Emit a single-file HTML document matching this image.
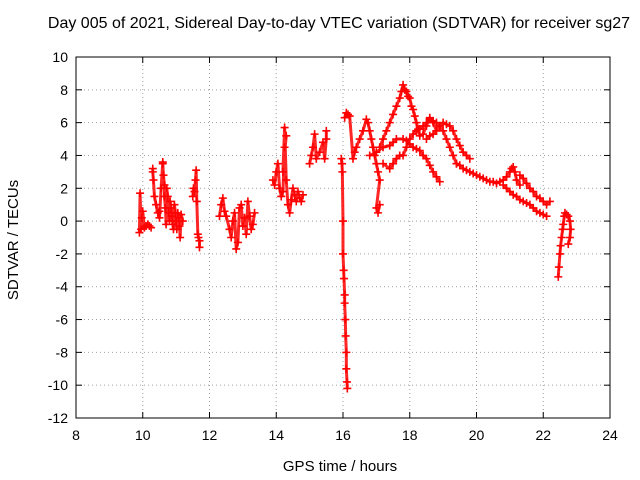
<!DOCTYPE html>
<html><head><meta charset="utf-8"><style>
html,body{margin:0;padding:0;background:#fff;}
svg{display:block;font-family:"Liberation Sans",sans-serif;}
</style></head><body>
<svg id="chart" width="640" height="480" viewBox="0 0 640 480">
<rect x="0" y="0" width="640" height="480" fill="#fff"/>
<text x="339" y="28" font-size="16" text-anchor="middle">Day 005 of 2021, Sidereal Day-to-day VTEC variation (SDTVAR) for receiver sg27</text>
<g id="grid"></g><g id="axes"></g><g id="marks"></g>
<text x="340" y="471" font-size="15" text-anchor="middle">GPS time / hours</text>
<text transform="translate(18,240) rotate(-90)" font-size="15" text-anchor="middle">SDTVAR / TECUs</text>
</svg>
<script>
const xTicks=[8,10,12,14,16,18,20,22,24];
const yTicks=[10,8,6,4,2,0,-2,-4,-6,-8,-10,-12];
const trackA_t=[9.9,9.92,9.95,9.97,10.0,10.05,10.1,10.15,10.2,10.25];
const trackA_v=[-0.7,1.7,-0.5,0.2,0.6,-0.4,-0.3,-0.2,-0.3,-0.4];
const trackB_t=[10.3,10.3,10.32,10.35,10.4,10.45,10.5,10.5,10.55,10.6,10.6,10.62,10.65,10.65,10.68,10.7,10.72,10.75,10.78,10.8,10.82,10.85,10.88,10.9,10.92,10.95,10.98,11.0,11.02,11.05,11.08,11.1,11.12,11.15,11.2];
const trackB_v=[3.2,3.0,2.5,1.5,1.0,0.5,0.6,0.2,2.0,3.6,3.5,2.8,2.2,1.5,0.8,-0.2,2.0,1.5,0.5,0.0,1.2,0.8,0.3,-0.2,-0.5,1.0,0.5,0.0,-0.5,0.5,0.2,-0.3,-1.0,0.4,0.0];
const trackC_t=[11.5,11.52,11.55,11.58,11.6,11.62,11.65,11.67,11.7,11.7];
const trackC_v=[1.5,2.0,1.8,2.5,3.1,1.2,-0.8,-1.0,-1.2,-1.6];
const trackD_t=[12.3,12.35,12.4,12.45,12.5,12.6,12.65,12.7,12.75,12.8,12.85,12.9,12.95,13.0,13.05,13.1,13.15,13.2,13.25,13.3,13.35];
const trackD_v=[0.3,1.0,1.4,0.6,0.3,-0.5,-1.0,0.0,0.5,-1.7,-1.3,0.8,1.0,-0.3,0.2,-0.8,1.2,0.3,-0.5,-0.2,0.5];
const trackE_t=[13.9,13.95,14.0,14.05,14.1,14.15,14.2,14.25,14.3,14.2,14.25,14.3,14.35,14.4,14.45,14.5,14.55,14.6,14.65,14.7,14.75,14.8];
const trackE_v=[2.5,2.2,3.0,3.5,2.0,1.5,1.8,4.5,5.2,3.0,5.7,2.5,1.0,0.5,1.3,2.0,1.6,1.2,1.8,1.4,1.2,1.6];
const trackF_t=[15.0,15.05,15.1,15.15,15.2,15.3,15.4,15.45,15.5,15.5];
const trackF_v=[3.5,4.0,4.5,5.3,3.8,4.2,4.8,3.8,5.0,5.5];
const trackG_t=[15.95,15.97,15.98,16.0,16.0,16.02,16.03,16.05,16.05,16.07,16.08,16.1,16.1,16.12,16.13];
const trackG_v=[3.8,3.5,3.0,0.0,-2.0,-3.0,-3.5,-4.5,-5.0,-6.0,-7.0,-8.0,-9.0,-9.8,-10.2];
const trackH_t=[16.05,16.1,16.15,16.2,16.3,16.35,16.4,16.5,16.6,16.7,16.75,16.8,16.85,16.9,16.95,17.0,17.05,17.1,17.0,17.05,17.1];
const trackH_v=[6.3,6.6,6.5,6.4,3.8,4.2,4.5,5.0,5.5,6.2,6.0,5.5,5.0,4.5,4.0,3.5,3.0,2.5,0.8,0.5,1.0];
const trackI_t=[17.1,17.2,17.3,17.4,17.5,17.6,17.7,17.75,17.8,17.85,17.9,17.95,18.0,18.05,18.1,18.15,18.2,18.25,18.3,18.4,18.5,18.6,18.7,18.8];
const trackI_v=[4.5,5.0,5.5,6.0,6.5,7.0,7.5,7.9,8.3,8.0,7.9,7.6,7.5,7.0,6.8,6.4,6.0,5.6,5.2,5.3,5.8,6.3,6.0,5.5];
const trackJ_t=[16.8,17.0,17.2,17.4,17.5,17.6,17.8,17.9,18.0,18.1,18.2,18.3,18.4,18.5,18.6,18.7,18.8,18.9];
const trackJ_v=[4.0,4.2,4.5,4.6,4.8,5.0,5.0,4.9,4.7,4.5,4.4,4.3,4.0,3.8,3.4,3.0,2.7,2.4];
const trackK_t=[17.2,17.4,17.5,17.6,17.7,17.8,17.9,18.0,18.1,18.2,18.3,18.4,18.5,18.6,18.7,18.8,18.9,19.0,19.1,19.2,19.3,19.4];
const trackK_v=[3.5,3.2,3.5,3.8,4.0,4.0,4.5,5.0,5.3,5.5,5.6,5.8,6.0,6.2,6.1,6.0,5.8,5.5,5.0,4.5,4.0,3.5];
const trackL_t=[18.5,18.6,18.7,18.8,18.9,19.0,19.1,19.2,19.3,19.4,19.5,19.6,19.7,19.8];
const trackL_v=[5.0,5.2,5.3,5.5,5.8,6.0,5.9,5.8,5.5,5.0,4.6,4.2,4.0,3.8];
const trackM_t=[19.4,19.5,19.6,19.7,19.8,19.9,20.0,20.1,20.2,20.3,20.4,20.5,20.6,20.7,20.8,20.9,21.0,21.05,21.1,21.15,21.2,21.3];
const trackM_v=[3.5,3.4,3.2,3.1,3.0,2.9,2.8,2.7,2.6,2.5,2.4,2.4,2.3,2.4,2.5,2.7,3.0,3.2,3.3,3.0,2.5,2.2];
const trackN_t=[20.8,20.9,21.0,21.1,21.2,21.3,21.4,21.5,21.6,21.7,21.8,21.9,22.0,22.1];
const trackN_v=[2.2,2.0,1.8,1.6,1.5,1.3,1.2,1.1,1.0,0.8,0.6,0.5,0.4,0.3];
const trackO_t=[21.3,21.4,21.5,21.6,21.7,21.8,21.9,22.0,22.1,22.2];
const trackO_v=[2.8,2.6,2.3,2.0,1.8,1.5,1.4,1.2,1.0,1.2];
const trackP_t=[22.45,22.47,22.5,22.52,22.55,22.58,22.6,22.63,22.65,22.7,22.75,22.8,22.82,22.8,22.75];
const trackP_v=[-3.4,-2.8,-2.0,-1.5,-1.0,-0.5,-0.2,0.3,0.5,0.4,0.3,0.0,-0.5,-1.0,-1.4];
const tracks=[[trackA_t,trackA_v],[trackB_t,trackB_v],[trackC_t,trackC_v],[trackD_t,trackD_v],[trackE_t,trackE_v],[trackF_t,trackF_v],[trackG_t,trackG_v],[trackH_t,trackH_v],[trackI_t,trackI_v],[trackJ_t,trackJ_v],[trackK_t,trackK_v],[trackL_t,trackL_v],[trackM_t,trackM_v],[trackN_t,trackN_v],[trackO_t,trackO_v],[trackP_t,trackP_v]];

const L=76,R=610,T=57,B=418;
const xs=t=>L+(t-8)/16*(R-L);
const ys=v=>T+(10-v)/22*(B-T);
const NS="http://www.w3.org/2000/svg";
function mk(tag,parent,attrs){const e=document.createElementNS(NS,tag);for(const k in attrs)e.setAttribute(k,attrs[k]);parent.appendChild(e);return e;}
const grid=document.getElementById('grid'),axes=document.getElementById('axes'),marks=document.getElementById('marks');
xTicks.forEach(t=>{
  const x=xs(t);
  if(t>8&&t<24){const g=mk('line',grid,{x1:x,y1:T,x2:x,y2:B,stroke:'#a0a0a0','stroke-dasharray':'1,3'});
  
  }
  mk('line',axes,{x1:x,y1:B,x2:x,y2:B-6,stroke:'#000'});
  mk('line',axes,{x1:x,y1:T,x2:x,y2:T+6,stroke:'#000'});
  const tx=mk('text',axes,{x:x,y:B+22,'font-size':14,'text-anchor':'middle'});
  tx.textContent=t;
  
  
});
yTicks.forEach(v=>{
  const y=ys(v);
  if(v>-12&&v<10){const g=mk('line',grid,{x1:L,y1:y,x2:R,y2:y,stroke:'#a0a0a0','stroke-dasharray':'1,3'});
  
  }
  mk('line',axes,{x1:L,y1:y,x2:L+6,y2:y,stroke:'#000'});
  mk('line',axes,{x1:R,y1:y,x2:R-6,y2:y,stroke:'#000'});
  const tx=mk('text',axes,{x:L-8,y:y+5,'font-size':14,'text-anchor':'end'});
  tx.textContent=v;
  
  
});
const fr=mk('rect',axes,{x:L,y:T,width:R-L,height:B-T,fill:'none',stroke:'#000'});


tracks.forEach(([tt,vv])=>{
  const pl=mk('polyline',marks,{points:tt.map((t,i)=>xs(t)+','+ys(vv[i])).join(' '),fill:'none',stroke:'#f00','stroke-width':3,'stroke-opacity':0.85,'stroke-linejoin':'round'});
  
  
  tt.forEach((t,i)=>{
    const x=xs(t),y=ys(vv[i]);
    const p=mk('path',marks,{d:`M${x-4},${y}H${x+4}M${x},${y-4}V${y+4}`,stroke:'#f00','stroke-width':1.6});
    
    
  });
});
</script>
</body></html>
